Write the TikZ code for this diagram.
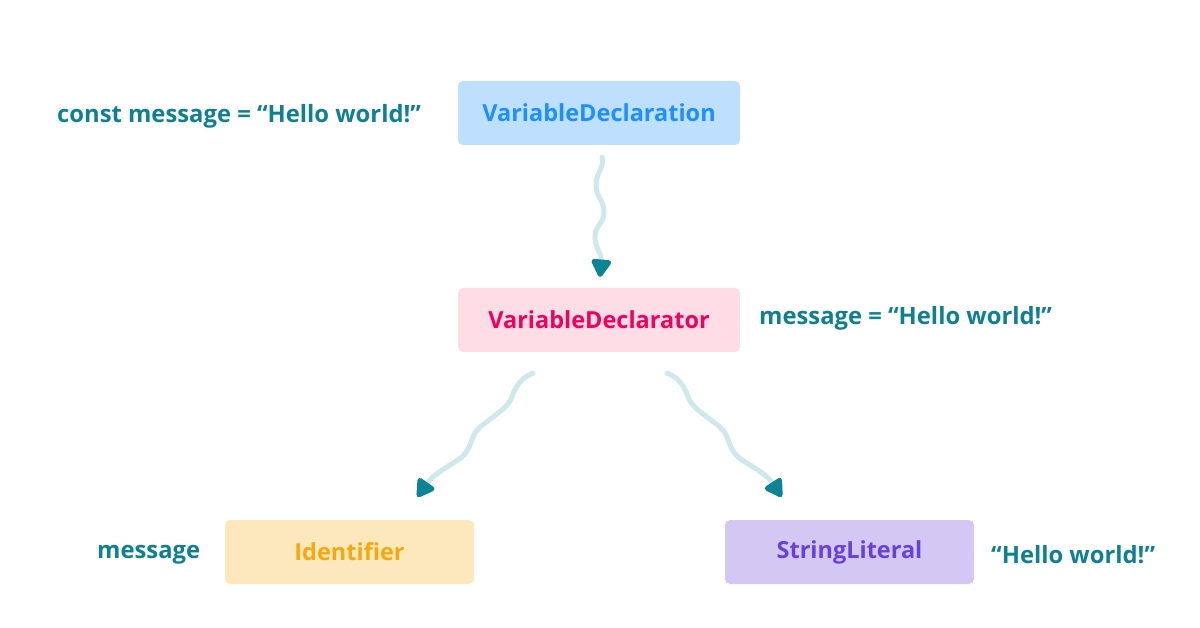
\documentclass[tikz,border=0pt]{standalone}
\usepackage{fontspec}
\setmainfont{Open Sans}
\usetikzlibrary{arrows.meta}

\definecolor{labelteal}{HTML}{0E8191}
\definecolor{tipteal}{HTML}{0D8494}
\definecolor{wavelight}{HTML}{CFE8EC}
\definecolor{declfill}{HTML}{BEDFFD}
\definecolor{decltext}{HTML}{1E8FFF}
\definecolor{dtorfill}{HTML}{FFDDE7}
\definecolor{dtortext}{HTML}{F3005A}
\definecolor{identfill}{HTML}{FDE8BD}
\definecolor{identtext}{HTML}{F6A90E}
\definecolor{litfill}{HTML}{D3C8F4}
\definecolor{littext}{HTML}{6A40DA}

\tikzset{
  astnode/.style={rounded corners=5pt, minimum width=282pt, minimum height=64pt,
    inner sep=0pt, font=\bfseries\fontsize{23.5}{27}\selectfont},
  leafnode/.style={astnode, minimum width=249pt},
  srclabel/.style={text=labelteal, anchor=west, inner sep=0pt,
    font=\bfseries\fontsize{23.8}{27}\selectfont},
  wiggle/.style={draw=wavelight, line width=5pt, line cap=round,
    -{Triangle[length=20pt,width=22pt,round,color=tipteal]}}
}

\begin{document}
\begin{tikzpicture}[x=1pt,y=-1pt]
  \useasboundingbox (0,0) rectangle (1200,628);

  % the tree
  \node[astnode, fill=declfill, text=decltext] (decl) at (599,113) {VariableDeclaration};
  \node[astnode, fill=dtorfill, text=dtortext] (dtor) at (599,320) {VariableDeclarator};
  \node[leafnode, fill=identfill, text=identtext] (ident) at (349.5,552) {Identifier};
  \node[leafnode, fill=litfill, text=littext] (strlit) at (849.5,552) {StringLiteral};

  % source text beside each node
  \node[srclabel] (srcdecl) at (57,116) {const message = “Hello world!”};
  \node[srclabel] (srcdtor) at (759,318) {message = “Hello world!”};
  \node[srclabel] (srcident) at (97,555) {message};
  \node[srclabel] (srclit) at (991,555) {“Hello world!”};

  % ends of the wavy arrows
  \coordinate (w1a) at ([xshift=3pt,yshift=-12pt]decl.south);
  \coordinate (w1b) at ([xshift=1pt,yshift=11pt]dtor.north);
  \coordinate (w2a) at ([xshift=-66pt,yshift=-21pt]dtor.south);
  \coordinate (w2b) at ([xshift=68pt,yshift=23pt]ident.north);
  \coordinate (w3a) at ([xshift=68pt,yshift=-21pt]dtor.south);
  \coordinate (w3b) at ([xshift=-68pt,yshift=23pt]strlit.north);

  \draw[wiggle] (w1a) .. controls (605,167) and (596,172) .. (596,185)
    .. controls (596,198) and (604,200) .. (604,212)
    .. controls (604,224) and (595,225) .. (595,237)
    .. controls (595,248) and (602,254) .. (w1b);
  \draw[wiggle] (w2a) .. controls (520,378) and (515,388) .. (511,399)
    .. controls (505,412) and (482,422) .. (475,433)
    .. controls (470,442) and (470,452) .. (458,460)
    .. controls (445,468) and (432,476) .. (w2b);
  \draw[wiggle] (w3a) .. controls (680,378) and (685,388) .. (689,399)
    .. controls (695,412) and (718,422) .. (725,433)
    .. controls (730,442) and (730,452) .. (742,460)
    .. controls (755,468) and (768,476) .. (w3b);
\end{tikzpicture}
\end{document}
